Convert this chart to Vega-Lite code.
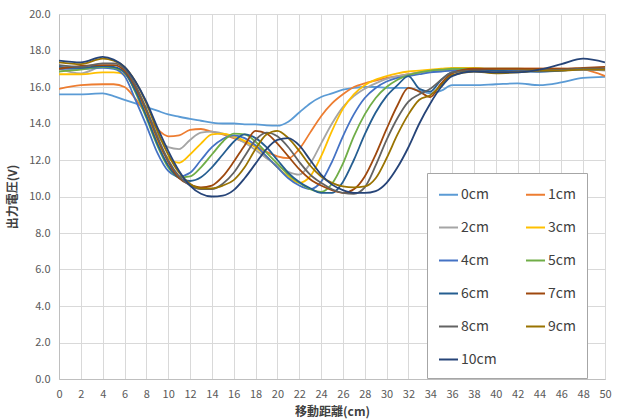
{
"$schema":"https://vega.github.io/schema/vega-lite/v6.json",
"width":546,"height":365,"autosize":"none",
"padding":{"left":59,"top":14,"right":14,"bottom":40},
"background":"white",
"config":{"view":{"stroke":"#cfdbe8"},"font":"Noto Sans CJK JP",
"axis":{"ticks":false,"domainColor":"#bfbfbf","gridColor":"#d9d9d9","labelFontSize":11,"labelColor":"#595959","titleFontSize":12,"titleFontWeight":"bold","titleColor":"#404040","labelFont":"Noto Sans CJK JP","titleFont":"Noto Sans CJK JP"},
"legend":{"orient":"none","legendX":368,"legendY":159,"columns":2,"direction":"horizontal","symbolType":"stroke","symbolSize":361,"symbolStrokeWidth":2,"labelFontSize":14,"labelColor":"#404040","labelOffset":2,"rowPadding":15,"columnPadding":25,"padding":11,"strokeColor":"#a6a6a6","fillColor":"white","gridAlign":"all","labelFont":"Noto Sans CJK JP"}},
"datasets":{"d":[
{"x":0,"s":"0cm","v":15.6},{"x":2,"s":"0cm","v":15.6},{"x":4,"s":"0cm","v":15.65},{"x":5,"s":"0cm","v":15.5},{"x":6,"s":"0cm","v":15.3},{"x":7,"s":"0cm","v":15.1},{"x":8,"s":"0cm","v":14.9},{"x":9,"s":"0cm","v":14.7},{"x":10,"s":"0cm","v":14.5},{"x":11,"s":"0cm","v":14.37},{"x":12,"s":"0cm","v":14.25},{"x":13,"s":"0cm","v":14.15},{"x":14,"s":"0cm","v":14.05},{"x":15,"s":"0cm","v":14.0},{"x":16,"s":"0cm","v":14.0},{"x":17,"s":"0cm","v":13.95},{"x":18,"s":"0cm","v":13.95},{"x":19,"s":"0cm","v":13.9},{"x":20,"s":"0cm","v":13.88},{"x":21,"s":"0cm","v":14.1},{"x":22,"s":"0cm","v":14.6},{"x":23,"s":"0cm","v":15.1},{"x":24,"s":"0cm","v":15.45},{"x":25,"s":"0cm","v":15.65},{"x":26,"s":"0cm","v":15.85},{"x":27,"s":"0cm","v":15.95},{"x":28,"s":"0cm","v":16.0},{"x":29,"s":"0cm","v":16.0},{"x":30,"s":"0cm","v":15.95},{"x":31,"s":"0cm","v":15.95},{"x":32,"s":"0cm","v":15.95},{"x":33,"s":"0cm","v":15.8},{"x":34,"s":"0cm","v":15.65},{"x":35,"s":"0cm","v":15.8},{"x":36,"s":"0cm","v":16.1},{"x":38,"s":"0cm","v":16.1},{"x":40,"s":"0cm","v":16.15},{"x":42,"s":"0cm","v":16.2},{"x":44,"s":"0cm","v":16.1},{"x":46,"s":"0cm","v":16.25},{"x":48,"s":"0cm","v":16.5},{"x":50,"s":"0cm","v":16.55},
{"x":0,"s":"1cm","v":15.9},{"x":2,"s":"1cm","v":16.1},{"x":4,"s":"1cm","v":16.15},{"x":5,"s":"1cm","v":16.15},{"x":6,"s":"1cm","v":16.0},{"x":7,"s":"1cm","v":15.35},{"x":8,"s":"1cm","v":14.5},{"x":9,"s":"1cm","v":13.7},{"x":10,"s":"1cm","v":13.3},{"x":11,"s":"1cm","v":13.35},{"x":12,"s":"1cm","v":13.65},{"x":13,"s":"1cm","v":13.7},{"x":14,"s":"1cm","v":13.55},{"x":15,"s":"1cm","v":13.4},{"x":16,"s":"1cm","v":13.2},{"x":17,"s":"1cm","v":13.0},{"x":18,"s":"1cm","v":12.75},{"x":19,"s":"1cm","v":12.45},{"x":20,"s":"1cm","v":12.2},{"x":21,"s":"1cm","v":12.1},{"x":22,"s":"1cm","v":12.6},{"x":23,"s":"1cm","v":13.5},{"x":24,"s":"1cm","v":14.4},{"x":25,"s":"1cm","v":15.1},{"x":26,"s":"1cm","v":15.6},{"x":27,"s":"1cm","v":16.0},{"x":28,"s":"1cm","v":16.2},{"x":29,"s":"1cm","v":16.35},{"x":30,"s":"1cm","v":16.5},{"x":31,"s":"1cm","v":16.6},{"x":32,"s":"1cm","v":16.7},{"x":33,"s":"1cm","v":16.8},{"x":34,"s":"1cm","v":16.85},{"x":35,"s":"1cm","v":16.9},{"x":36,"s":"1cm","v":16.95},{"x":38,"s":"1cm","v":17.0},{"x":40,"s":"1cm","v":17.0},{"x":42,"s":"1cm","v":17.0},{"x":44,"s":"1cm","v":17.0},{"x":46,"s":"1cm","v":17.0},{"x":48,"s":"1cm","v":16.95},{"x":50,"s":"1cm","v":16.6},
{"x":0,"s":"2cm","v":17.0},{"x":2,"s":"2cm","v":16.75},{"x":4,"s":"2cm","v":17.1},{"x":5,"s":"2cm","v":17.05},{"x":6,"s":"2cm","v":16.8},{"x":7,"s":"2cm","v":15.9},{"x":8,"s":"2cm","v":14.6},{"x":9,"s":"2cm","v":13.4},{"x":10,"s":"2cm","v":12.7},{"x":11,"s":"2cm","v":12.6},{"x":12,"s":"2cm","v":13.1},{"x":13,"s":"2cm","v":13.5},{"x":14,"s":"2cm","v":13.55},{"x":15,"s":"2cm","v":13.45},{"x":16,"s":"2cm","v":13.25},{"x":17,"s":"2cm","v":12.95},{"x":18,"s":"2cm","v":12.55},{"x":19,"s":"2cm","v":12.1},{"x":20,"s":"2cm","v":11.7},{"x":21,"s":"2cm","v":11.35},{"x":22,"s":"2cm","v":11.2},{"x":23,"s":"2cm","v":11.8},{"x":24,"s":"2cm","v":12.9},{"x":25,"s":"2cm","v":14.0},{"x":26,"s":"2cm","v":14.9},{"x":27,"s":"2cm","v":15.5},{"x":28,"s":"2cm","v":15.9},{"x":29,"s":"2cm","v":16.2},{"x":30,"s":"2cm","v":16.45},{"x":31,"s":"2cm","v":16.6},{"x":32,"s":"2cm","v":16.7},{"x":33,"s":"2cm","v":16.8},{"x":34,"s":"2cm","v":16.85},{"x":35,"s":"2cm","v":16.9},{"x":36,"s":"2cm","v":16.95},{"x":38,"s":"2cm","v":16.95},{"x":40,"s":"2cm","v":16.95},{"x":42,"s":"2cm","v":16.9},{"x":44,"s":"2cm","v":16.9},{"x":46,"s":"2cm","v":16.95},{"x":48,"s":"2cm","v":16.95},{"x":50,"s":"2cm","v":16.9},
{"x":0,"s":"3cm","v":16.7},{"x":2,"s":"3cm","v":16.7},{"x":4,"s":"3cm","v":16.8},{"x":5,"s":"3cm","v":16.8},{"x":6,"s":"3cm","v":16.7},{"x":7,"s":"3cm","v":15.8},{"x":8,"s":"3cm","v":14.5},{"x":9,"s":"3cm","v":13.0},{"x":10,"s":"3cm","v":12.1},{"x":11,"s":"3cm","v":11.85},{"x":12,"s":"3cm","v":12.3},{"x":13,"s":"3cm","v":12.9},{"x":14,"s":"3cm","v":13.4},{"x":15,"s":"3cm","v":13.45},{"x":16,"s":"3cm","v":13.3},{"x":17,"s":"3cm","v":13.05},{"x":18,"s":"3cm","v":12.7},{"x":19,"s":"3cm","v":12.2},{"x":20,"s":"3cm","v":11.6},{"x":21,"s":"3cm","v":11.1},{"x":22,"s":"3cm","v":10.75},{"x":23,"s":"3cm","v":11.1},{"x":24,"s":"3cm","v":12.2},{"x":25,"s":"3cm","v":13.6},{"x":26,"s":"3cm","v":14.8},{"x":27,"s":"3cm","v":15.6},{"x":28,"s":"3cm","v":16.1},{"x":29,"s":"3cm","v":16.4},{"x":30,"s":"3cm","v":16.6},{"x":31,"s":"3cm","v":16.75},{"x":32,"s":"3cm","v":16.85},{"x":33,"s":"3cm","v":16.9},{"x":34,"s":"3cm","v":16.95},{"x":35,"s":"3cm","v":17.0},{"x":36,"s":"3cm","v":17.05},{"x":38,"s":"3cm","v":17.05},{"x":40,"s":"3cm","v":16.9},{"x":42,"s":"3cm","v":16.85},{"x":44,"s":"3cm","v":16.9},{"x":46,"s":"3cm","v":16.95},{"x":48,"s":"3cm","v":17.0},{"x":50,"s":"3cm","v":16.95},
{"x":0,"s":"4cm","v":17.0},{"x":2,"s":"4cm","v":17.0},{"x":4,"s":"4cm","v":17.05},{"x":5,"s":"4cm","v":17.0},{"x":6,"s":"4cm","v":16.6},{"x":7,"s":"4cm","v":15.3},{"x":8,"s":"4cm","v":13.9},{"x":9,"s":"4cm","v":12.4},{"x":10,"s":"4cm","v":11.4},{"x":11,"s":"4cm","v":11.1},{"x":12,"s":"4cm","v":11.3},{"x":13,"s":"4cm","v":12.0},{"x":14,"s":"4cm","v":12.7},{"x":15,"s":"4cm","v":13.15},{"x":16,"s":"4cm","v":13.35},{"x":17,"s":"4cm","v":13.2},{"x":18,"s":"4cm","v":12.8},{"x":19,"s":"4cm","v":12.2},{"x":20,"s":"4cm","v":11.6},{"x":21,"s":"4cm","v":11.0},{"x":22,"s":"4cm","v":10.6},{"x":23,"s":"4cm","v":10.4},{"x":24,"s":"4cm","v":10.8},{"x":25,"s":"4cm","v":11.9},{"x":26,"s":"4cm","v":13.3},{"x":27,"s":"4cm","v":14.5},{"x":28,"s":"4cm","v":15.4},{"x":29,"s":"4cm","v":15.95},{"x":30,"s":"4cm","v":16.3},{"x":31,"s":"4cm","v":16.5},{"x":32,"s":"4cm","v":16.6},{"x":33,"s":"4cm","v":16.7},{"x":34,"s":"4cm","v":16.8},{"x":35,"s":"4cm","v":16.85},{"x":36,"s":"4cm","v":16.9},{"x":38,"s":"4cm","v":16.95},{"x":40,"s":"4cm","v":16.9},{"x":42,"s":"4cm","v":16.9},{"x":44,"s":"4cm","v":16.85},{"x":46,"s":"4cm","v":16.9},{"x":48,"s":"4cm","v":16.95},{"x":50,"s":"4cm","v":16.95},
{"x":0,"s":"5cm","v":16.85},{"x":2,"s":"5cm","v":16.95},{"x":4,"s":"5cm","v":17.1},{"x":5,"s":"5cm","v":17.05},{"x":6,"s":"5cm","v":16.8},{"x":7,"s":"5cm","v":15.7},{"x":8,"s":"5cm","v":14.3},{"x":9,"s":"5cm","v":12.8},{"x":10,"s":"5cm","v":11.6},{"x":11,"s":"5cm","v":11.05},{"x":12,"s":"5cm","v":11.1},{"x":13,"s":"5cm","v":11.6},{"x":14,"s":"5cm","v":12.3},{"x":15,"s":"5cm","v":13.0},{"x":16,"s":"5cm","v":13.45},{"x":17,"s":"5cm","v":13.4},{"x":18,"s":"5cm","v":13.0},{"x":19,"s":"5cm","v":12.4},{"x":20,"s":"5cm","v":11.8},{"x":21,"s":"5cm","v":11.2},{"x":22,"s":"5cm","v":10.75},{"x":23,"s":"5cm","v":10.4},{"x":24,"s":"5cm","v":10.25},{"x":25,"s":"5cm","v":10.7},{"x":26,"s":"5cm","v":11.8},{"x":27,"s":"5cm","v":13.3},{"x":28,"s":"5cm","v":14.5},{"x":29,"s":"5cm","v":15.4},{"x":30,"s":"5cm","v":16.0},{"x":31,"s":"5cm","v":16.4},{"x":32,"s":"5cm","v":16.65},{"x":33,"s":"5cm","v":16.8},{"x":34,"s":"5cm","v":16.9},{"x":35,"s":"5cm","v":16.95},{"x":36,"s":"5cm","v":17.0},{"x":38,"s":"5cm","v":17.0},{"x":40,"s":"5cm","v":17.0},{"x":42,"s":"5cm","v":17.0},{"x":44,"s":"5cm","v":16.95},{"x":46,"s":"5cm","v":16.95},{"x":48,"s":"5cm","v":17.0},{"x":50,"s":"5cm","v":17.0},
{"x":0,"s":"6cm","v":17.1},{"x":2,"s":"6cm","v":17.05},{"x":4,"s":"6cm","v":17.15},{"x":5,"s":"6cm","v":17.1},{"x":6,"s":"6cm","v":16.8},{"x":7,"s":"6cm","v":15.8},{"x":8,"s":"6cm","v":14.4},{"x":9,"s":"6cm","v":12.9},{"x":10,"s":"6cm","v":11.7},{"x":11,"s":"6cm","v":11.0},{"x":12,"s":"6cm","v":10.85},{"x":13,"s":"6cm","v":11.05},{"x":14,"s":"6cm","v":11.6},{"x":15,"s":"6cm","v":12.3},{"x":16,"s":"6cm","v":13.0},{"x":17,"s":"6cm","v":13.4},{"x":18,"s":"6cm","v":13.2},{"x":19,"s":"6cm","v":12.7},{"x":20,"s":"6cm","v":12.0},{"x":21,"s":"6cm","v":11.3},{"x":22,"s":"6cm","v":10.8},{"x":23,"s":"6cm","v":10.45},{"x":24,"s":"6cm","v":10.2},{"x":25,"s":"6cm","v":10.2},{"x":26,"s":"6cm","v":10.8},{"x":27,"s":"6cm","v":12.0},{"x":28,"s":"6cm","v":13.4},{"x":29,"s":"6cm","v":14.6},{"x":30,"s":"6cm","v":15.5},{"x":31,"s":"6cm","v":16.1},{"x":32,"s":"6cm","v":16.6},{"x":33,"s":"6cm","v":15.9},{"x":34,"s":"6cm","v":15.75},{"x":35,"s":"6cm","v":16.4},{"x":36,"s":"6cm","v":16.8},{"x":38,"s":"6cm","v":16.95},{"x":40,"s":"6cm","v":16.9},{"x":42,"s":"6cm","v":16.85},{"x":44,"s":"6cm","v":16.85},{"x":46,"s":"6cm","v":16.9},{"x":48,"s":"6cm","v":17.0},{"x":50,"s":"6cm","v":17.0},
{"x":0,"s":"7cm","v":17.0},{"x":2,"s":"7cm","v":17.15},{"x":4,"s":"7cm","v":17.2},{"x":5,"s":"7cm","v":17.2},{"x":6,"s":"7cm","v":16.9},{"x":7,"s":"7cm","v":16.0},{"x":8,"s":"7cm","v":14.7},{"x":9,"s":"7cm","v":13.2},{"x":10,"s":"7cm","v":11.9},{"x":11,"s":"7cm","v":11.0},{"x":12,"s":"7cm","v":10.65},{"x":13,"s":"7cm","v":10.5},{"x":14,"s":"7cm","v":10.6},{"x":15,"s":"7cm","v":11.1},{"x":16,"s":"7cm","v":11.9},{"x":17,"s":"7cm","v":12.8},{"x":18,"s":"7cm","v":13.6},{"x":19,"s":"7cm","v":13.45},{"x":20,"s":"7cm","v":12.9},{"x":21,"s":"7cm","v":12.2},{"x":22,"s":"7cm","v":11.5},{"x":23,"s":"7cm","v":10.95},{"x":24,"s":"7cm","v":10.6},{"x":25,"s":"7cm","v":10.35},{"x":26,"s":"7cm","v":10.2},{"x":27,"s":"7cm","v":10.4},{"x":28,"s":"7cm","v":11.1},{"x":29,"s":"7cm","v":12.3},{"x":30,"s":"7cm","v":13.7},{"x":31,"s":"7cm","v":15.0},{"x":32,"s":"7cm","v":15.95},{"x":33,"s":"7cm","v":15.75},{"x":34,"s":"7cm","v":15.45},{"x":35,"s":"7cm","v":16.2},{"x":36,"s":"7cm","v":16.75},{"x":38,"s":"7cm","v":17.0},{"x":40,"s":"7cm","v":17.0},{"x":42,"s":"7cm","v":17.0},{"x":44,"s":"7cm","v":17.0},{"x":46,"s":"7cm","v":17.0},{"x":48,"s":"7cm","v":17.05},{"x":50,"s":"7cm","v":17.1},
{"x":0,"s":"8cm","v":17.2},{"x":2,"s":"8cm","v":17.1},{"x":4,"s":"8cm","v":17.3},{"x":5,"s":"8cm","v":17.3},{"x":6,"s":"8cm","v":17.0},{"x":7,"s":"8cm","v":16.1},{"x":8,"s":"8cm","v":14.8},{"x":9,"s":"8cm","v":13.3},{"x":10,"s":"8cm","v":12.0},{"x":11,"s":"8cm","v":11.1},{"x":12,"s":"8cm","v":10.6},{"x":13,"s":"8cm","v":10.4},{"x":14,"s":"8cm","v":10.4},{"x":15,"s":"8cm","v":10.7},{"x":16,"s":"8cm","v":11.3},{"x":17,"s":"8cm","v":12.2},{"x":18,"s":"8cm","v":13.1},{"x":19,"s":"8cm","v":13.5},{"x":20,"s":"8cm","v":13.3},{"x":21,"s":"8cm","v":12.7},{"x":22,"s":"8cm","v":11.9},{"x":23,"s":"8cm","v":11.2},{"x":24,"s":"8cm","v":10.75},{"x":25,"s":"8cm","v":10.4},{"x":26,"s":"8cm","v":10.2},{"x":27,"s":"8cm","v":10.15},{"x":28,"s":"8cm","v":10.5},{"x":29,"s":"8cm","v":11.7},{"x":30,"s":"8cm","v":13.1},{"x":31,"s":"8cm","v":14.3},{"x":32,"s":"8cm","v":15.2},{"x":33,"s":"8cm","v":15.6},{"x":34,"s":"8cm","v":15.9},{"x":35,"s":"8cm","v":16.4},{"x":36,"s":"8cm","v":16.8},{"x":38,"s":"8cm","v":16.9},{"x":40,"s":"8cm","v":16.8},{"x":42,"s":"8cm","v":16.85},{"x":44,"s":"8cm","v":16.9},{"x":46,"s":"8cm","v":16.95},{"x":48,"s":"8cm","v":17.0},{"x":50,"s":"8cm","v":17.0},
{"x":0,"s":"9cm","v":17.35},{"x":2,"s":"9cm","v":17.25},{"x":4,"s":"9cm","v":17.55},{"x":5,"s":"9cm","v":17.45},{"x":6,"s":"9cm","v":17.1},{"x":7,"s":"9cm","v":16.3},{"x":8,"s":"9cm","v":15.1},{"x":9,"s":"9cm","v":13.6},{"x":10,"s":"9cm","v":12.3},{"x":11,"s":"9cm","v":11.3},{"x":12,"s":"9cm","v":10.7},{"x":13,"s":"9cm","v":10.45},{"x":14,"s":"9cm","v":10.45},{"x":15,"s":"9cm","v":10.6},{"x":16,"s":"9cm","v":10.9},{"x":17,"s":"9cm","v":11.6},{"x":18,"s":"9cm","v":12.6},{"x":19,"s":"9cm","v":13.4},{"x":20,"s":"9cm","v":13.6},{"x":21,"s":"9cm","v":13.2},{"x":22,"s":"9cm","v":12.5},{"x":23,"s":"9cm","v":11.7},{"x":24,"s":"9cm","v":11.1},{"x":25,"s":"9cm","v":10.75},{"x":26,"s":"9cm","v":10.55},{"x":27,"s":"9cm","v":10.5},{"x":28,"s":"9cm","v":10.55},{"x":29,"s":"9cm","v":11.0},{"x":30,"s":"9cm","v":12.1},{"x":31,"s":"9cm","v":13.4},{"x":32,"s":"9cm","v":14.5},{"x":33,"s":"9cm","v":15.3},{"x":34,"s":"9cm","v":15.55},{"x":35,"s":"9cm","v":16.1},{"x":36,"s":"9cm","v":16.65},{"x":38,"s":"9cm","v":16.85},{"x":40,"s":"9cm","v":16.75},{"x":42,"s":"9cm","v":16.8},{"x":44,"s":"9cm","v":16.9},{"x":46,"s":"9cm","v":16.9},{"x":48,"s":"9cm","v":16.95},{"x":50,"s":"9cm","v":16.95},
{"x":0,"s":"10cm","v":17.45},{"x":2,"s":"10cm","v":17.35},{"x":4,"s":"10cm","v":17.65},{"x":5,"s":"10cm","v":17.5},{"x":6,"s":"10cm","v":17.1},{"x":7,"s":"10cm","v":16.3},{"x":8,"s":"10cm","v":15.2},{"x":9,"s":"10cm","v":13.8},{"x":10,"s":"10cm","v":12.5},{"x":11,"s":"10cm","v":11.4},{"x":12,"s":"10cm","v":10.6},{"x":13,"s":"10cm","v":10.15},{"x":14,"s":"10cm","v":10.0},{"x":15,"s":"10cm","v":10.05},{"x":16,"s":"10cm","v":10.35},{"x":17,"s":"10cm","v":11.0},{"x":18,"s":"10cm","v":11.8},{"x":19,"s":"10cm","v":12.6},{"x":20,"s":"10cm","v":13.1},{"x":21,"s":"10cm","v":13.2},{"x":22,"s":"10cm","v":12.8},{"x":23,"s":"10cm","v":12.0},{"x":24,"s":"10cm","v":11.2},{"x":25,"s":"10cm","v":10.65},{"x":26,"s":"10cm","v":10.35},{"x":27,"s":"10cm","v":10.2},{"x":28,"s":"10cm","v":10.2},{"x":29,"s":"10cm","v":10.3},{"x":30,"s":"10cm","v":10.75},{"x":31,"s":"10cm","v":11.6},{"x":32,"s":"10cm","v":12.7},{"x":33,"s":"10cm","v":14.0},{"x":34,"s":"10cm","v":15.1},{"x":35,"s":"10cm","v":16.0},{"x":36,"s":"10cm","v":16.6},{"x":38,"s":"10cm","v":16.85},{"x":40,"s":"10cm","v":16.8},{"x":42,"s":"10cm","v":16.8},{"x":44,"s":"10cm","v":16.95},{"x":46,"s":"10cm","v":17.25},{"x":48,"s":"10cm","v":17.55},{"x":50,"s":"10cm","v":17.35}
]},
"data":{"name":"d"},
"mark":{"type":"line","interpolate":"monotone","strokeWidth":1.8,"clip":true},
"encoding":{
"x":{"field":"x","type":"quantitative","scale":{"domain":[0,50],"nice":false},"axis":{"values":[0,2,4,6,8,10,12,14,16,18,20,22,24,26,28,30,32,34,36,38,40,42,44,46,48,50],"title":"移動距離(cm)","labelPadding":9,"titlePadding":7,"labelFlush":false}},
"y":{"field":"v","type":"quantitative","scale":{"domain":[0,20],"nice":false},"axis":{"values":[0,2,4,6,8,10,12,14,16,18,20],"format":".1f","title":"出力電圧(V)","labelPadding":9,"titlePadding":9}},
"color":{"field":"s","type":"nominal","scale":{"domain":["0cm","1cm","2cm","3cm","4cm","5cm","6cm","7cm","8cm","9cm","10cm"],"range":["#5B9BD5","#ED7D31","#A5A5A5","#FFC000","#4472C4","#70AD47","#255E91","#9E480E","#636363","#997300","#264478"]},"legend":{"title":null}}
}
}
